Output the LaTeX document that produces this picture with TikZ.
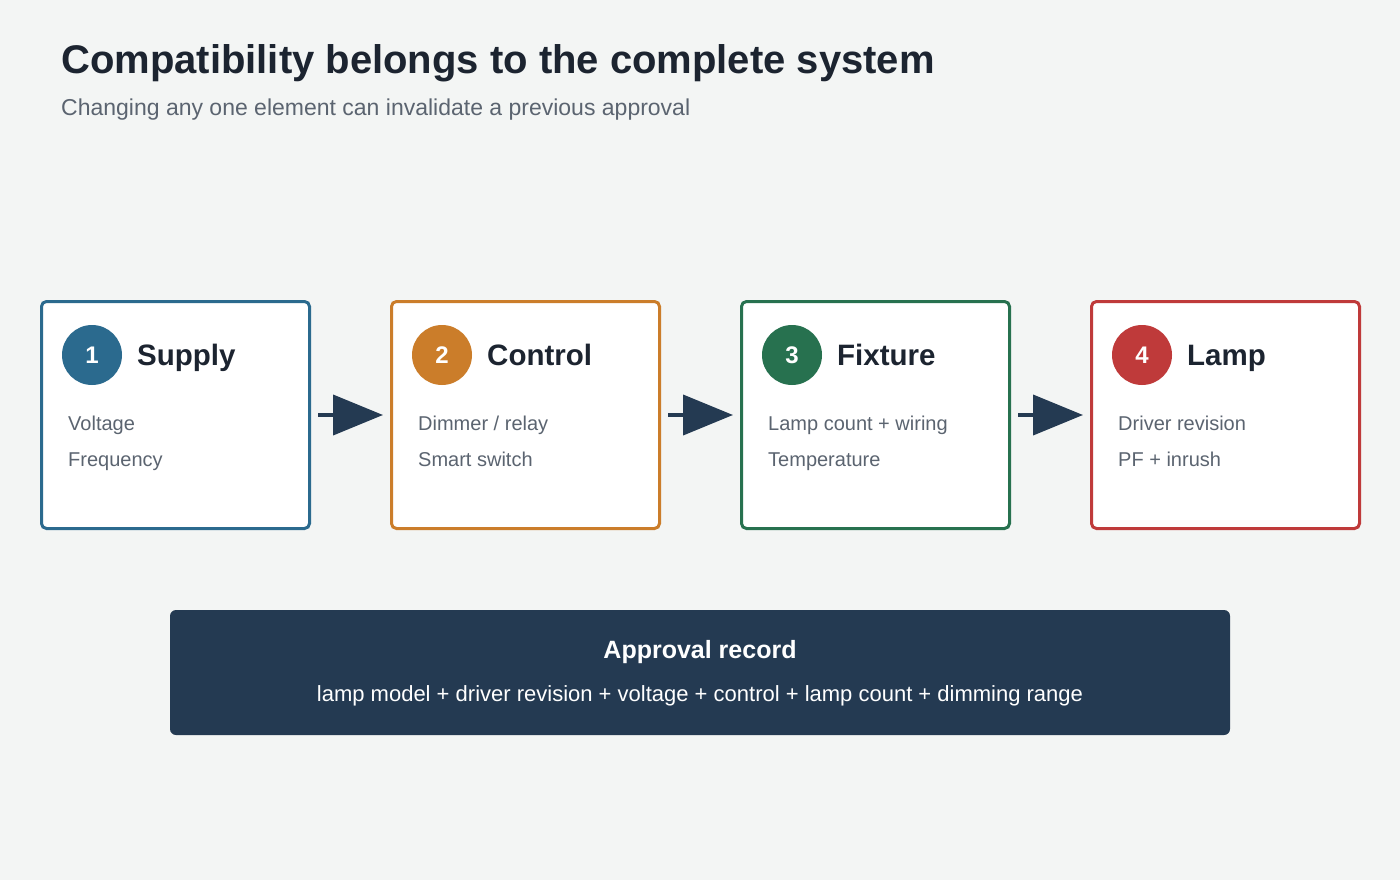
\documentclass[tikz,border=0pt]{standalone}
\usepackage{fontspec}
\setmainfont{Liberation Sans}
\usetikzlibrary{arrows.meta}

\definecolor{bgcol}{HTML}{F3F5F4}
\definecolor{navy}{HTML}{243A52}
\definecolor{supplycol}{HTML}{2B6A8E}
\definecolor{controlcol}{HTML}{CB7D2A}
\definecolor{fixturecol}{HTML}{27714F}
\definecolor{lampcol}{HTML}{BF3A3A}
\definecolor{inkcol}{HTML}{1C2430}
\definecolor{greycol}{HTML}{5B6470}

\tikzset{
  stage/.style={draw=#1, line width=3pt, fill=white, rounded corners=5pt,
    minimum width=268pt, minimum height=227pt, inner sep=0pt},
  badge/.style={circle, fill=#1, minimum size=60pt, inner sep=0pt,
    text=white, font=\fontsize{24}{26}\selectfont\bfseries},
  stagetitle/.style={anchor=base west, text=inkcol, inner sep=0pt,
    font=\fontsize{29.5}{32}\selectfont\bfseries},
  item/.style={anchor=base west, text=greycol, inner sep=0pt,
    font=\fontsize{20}{22}\selectfont},
  flow/.style={draw=navy, line width=4pt, shorten <=7pt, shorten >=7pt,
    -{Triangle[length=50pt, width=40pt]}},
}

\begin{document}
\begin{tikzpicture}[x=1pt, y=-1pt]

\fill[bgcol] (0, 0) rectangle (1400, 880);

\node[anchor=base west, inner sep=0pt, text=inkcol, font=\fontsize{40}{44}\selectfont\bfseries] (title) at (61, 73.5) {Compatibility belongs to the complete system};
\node[anchor=base west, inner sep=0pt, text=greycol, font=\fontsize{23}{26}\selectfont] (subtitle) at (61, 116) {Changing any one element can invalidate a previous approval};

% the four stages
\node[stage=supplycol] (supply) at (175.5, 415) {};
\node[badge=supplycol] (supplyno) at (92, 355) {1};
\node[stagetitle] (supplyname) at (137, 365.5) {Supply};
\node[item] (supplya) at (68, 430) {Voltage};
\node[item] (supplyb) at (68, 466) {Frequency};

\node[stage=controlcol] (control) at (525.5, 415) {};
\node[badge=controlcol] (controlno) at (442, 355) {2};
\node[stagetitle] (controlname) at (487, 365.5) {Control};
\node[item] (controla) at (418, 430) {Dimmer / relay};
\node[item] (controlb) at (418, 466) {Smart switch};

\node[stage=fixturecol] (fixture) at (875.5, 415) {};
\node[badge=fixturecol] (fixtureno) at (792, 355) {3};
\node[stagetitle] (fixturename) at (837, 365.5) {Fixture};
\node[item] (fixturea) at (768, 430) {Lamp count + wiring};
\node[item] (fixtureb) at (768, 466) {Temperature};

\node[stage=lampcol] (lamp) at (1225.5, 415) {};
\node[badge=lampcol] (lampno) at (1142, 355) {4};
\node[stagetitle] (lampname) at (1187, 365.5) {Lamp};
\node[item] (lampa) at (1118, 430) {Driver revision};
\node[item] (lampb) at (1118, 466) {PF + inrush};

\foreach \a/\b in {supply/control, control/fixture, fixture/lamp}
  \draw[flow] (\a.east) -- (\b.west);

% approval record
\node[fill=navy, rounded corners=6pt, minimum width=1060pt, minimum height=125pt, inner sep=0pt] (record) at (700, 672.5) {};
\node[anchor=base, text=white, inner sep=0pt, font=\fontsize{25}{28}\selectfont\bfseries] (recordname) at (700, 658) {Approval record};
\node[anchor=base, text=white, inner sep=0pt, font=\fontsize{22}{24}\selectfont] (recordline) at (700, 701) {lamp model + driver revision + voltage + control + lamp count + dimming range};

\end{tikzpicture}
\end{document}
